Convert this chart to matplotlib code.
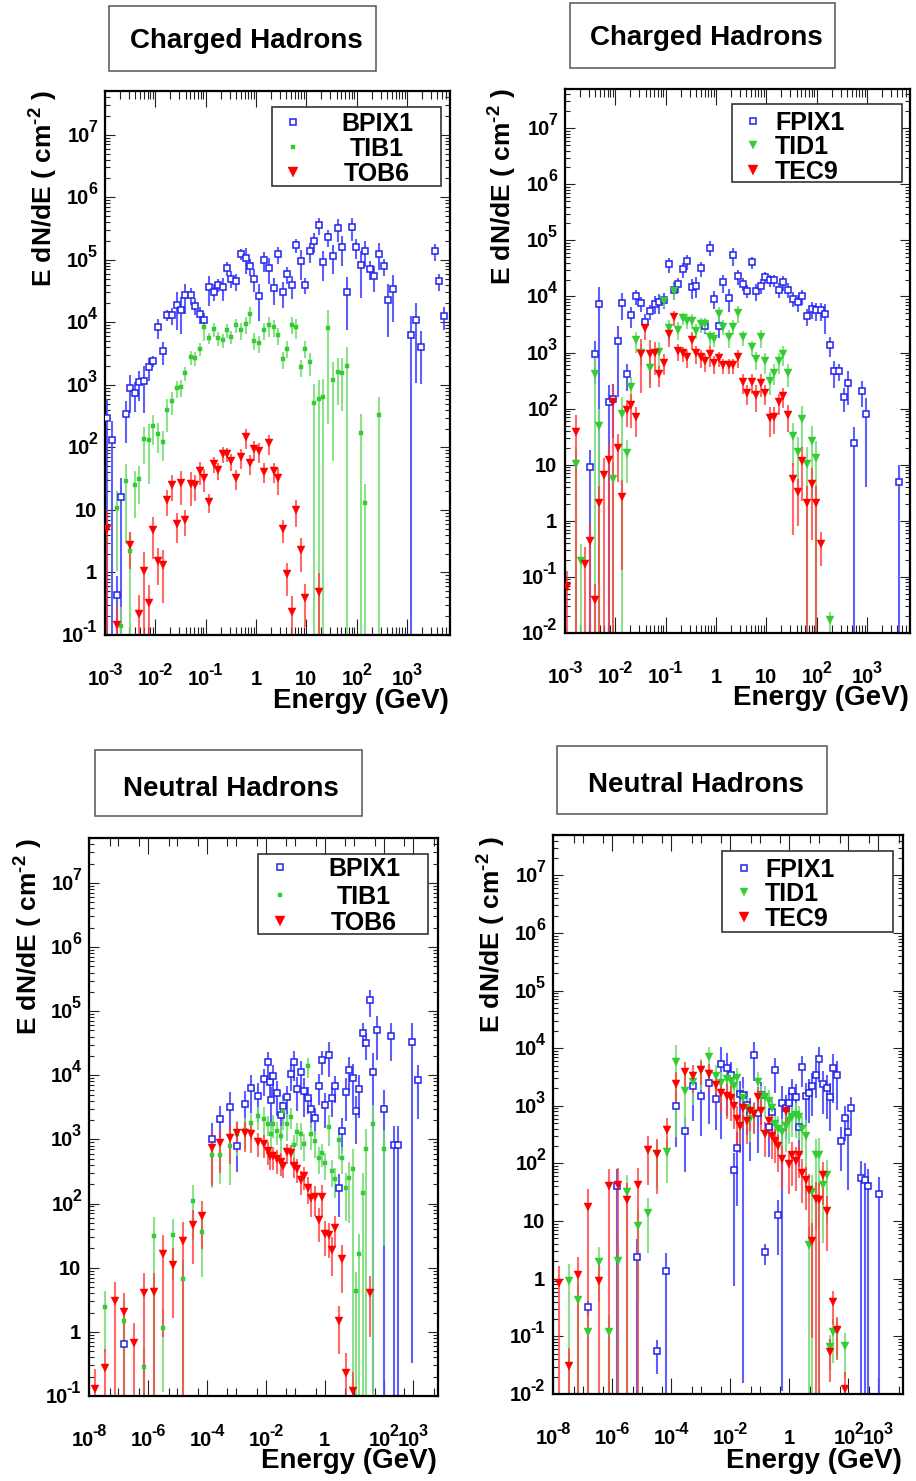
import matplotlib
matplotlib.use("Agg")
import numpy as np
import matplotlib.pyplot as plt
from matplotlib.patches import Rectangle
from matplotlib.lines import Line2D
from matplotlib.ticker import FixedLocator, NullFormatter, LogLocator
from matplotlib.transforms import offset_copy
from matplotlib.font_manager import FontProperties

plt.rcParams['font.family'] = ['Liberation Sans', 'DejaVu Sans']
plt.rcParams['font.weight'] = 'bold'
plt.rcParams['mathtext.fontset'] = 'custom'
plt.rcParams['mathtext.rm'] = 'Liberation Sans:bold'
plt.rcParams['mathtext.it'] = 'Liberation Sans:bold'
plt.rcParams['mathtext.bf'] = 'Liberation Sans:bold'
plt.rcParams['mathtext.default'] = 'rm'

# ---------------- DATA (log10 of energy in GeV, E dN/dE values, relative errors) -------------
# Panel 1: Charged hadrons, barrel
p1_bpix1_logE = [-2.97,-2.87,-2.77,-2.68,-2.59,-2.50,-2.40,-2.32,-2.22,-2.12,-2.04,-1.95,-1.85,-1.76,-1.67,
                 -1.57,-1.49,-1.40,-1.30,-1.21,-1.12,-1.03,-0.94,-0.84,-0.75,-0.66,-0.57,-0.49,-0.39,-0.30,
                 -0.20,-0.12,-0.03,0.07,0.16,0.25,0.35,0.44,0.53,0.61,0.71,0.80,0.89,0.98,1.08,1.16,1.26,
                 1.34,1.44,1.53,1.63,1.72,1.81,1.90,1.99,2.08,2.17,2.27,2.35,2.44,2.54,2.62,2.72,3.09,3.19,
                 3.28,3.55,3.64,3.73]
p1_bpix1_val = [300,130,0.44,16,340,900,740,1100,1170,1900,2450,8300,3500,13000,13000,19000,16000,27000,
                27000,18500,13500,11000,37000,31000,40000,37000,74000,50000,45000,123000,108000,80000,50000,
                26000,98000,74000,35000,123000,31000,59000,40000,170000,95000,40000,138000,200000,360000,
                93000,230000,117000,325000,158000,30000,330000,158000,82000,138000,72000,55000,126000,80000,
                23000,34000,6300,10700,4100,138000,46000,12600]
p1_bpix1_err = [1,1,1,1,0.65,0.6,0.5,0.5,0.7,0.4, 0.2,0.35,0.4,0.2,0.3, 0.6,0.6,0.5,0.3,0.3,
                0.3,0.3,0.5,0.3,0.25, 0.4,0.25,0.3,0.3,0.2, 0.45,0.3,0.4,0.6,0.35, 0.45,0.45,0.3,0.45,0.3,
                0.4,0.25,0.5,0.3,0.35, 0.35,0.3,0.5,0.3,0.5, 0.4,0.5,0.75,0.4,0.35, 0.7,0.45,0.35,0.45,0.45,
                0.3,0.75,0.7,1,0.9, 0.75,0.3,0.3,0.4]

p1_tib1_logE = [-2.77,-2.68,-2.59,-2.50,-2.40,-2.32,-2.22,-2.12,-2.04,-1.95,-1.85,-1.76,-1.67,-1.57,-1.49,
                -1.40,-1.30,-1.21,-1.12,-1.03,-0.94,-0.84,-0.75,-0.66,-0.57,-0.49,-0.39,-0.30,-0.20,-0.12,
                -0.03,0.07,0.16,0.25,0.35,0.44,0.53,0.61,0.71,0.80,0.89,0.98,1.08,1.16,1.26,1.34,1.44,1.53,
                1.63,1.72,1.81,2.08,2.17,2.44]
p1_tib1_val = [10.7,0.14,29,2.2,25, 31,134,130,220,162, 123,390,550,890,930, 1520,2800,2700,3800,8500,
               5600,7700,5600,5200,7500, 5900,8900,7400,9400,13400, 5100,4700,7400,9100,8300,
               6200,2600,3800,9200,8300, 1900,3800,2300,520,590, 630,8000,1200,1580,1520, 2000,170,13,325]
p1_tib1_err = [0.9,1,0.9,1,0.7, 0.6,0.6,0.8,0.5,0.5, 0.5,0.55,0.4,0.3,0.3, 0.25,0.25,0.25,0.25,0.4,
               0.2,0.25,0.25,0.25,0.25, 0.25,0.25,0.3,0.3,0.3, 0.3,0.3,0.3,0.35,0.3, 0.3,0.3,0.3,0.3,0.35,
               0.3,0.3,0.4,1,1, 1,0.97,0.95,0.7,0.75, 1,1,1,1]

p1_tob6_logE = [-2.97,-2.77,-2.50,-2.32,-2.22,-2.12,-2.04,-1.95,-1.85,-1.76,-1.67,-1.57,-1.49,-1.40,-1.30,
                -1.21,-1.12,-1.03,-0.94,-0.84,-0.75,-0.66,-0.57,-0.49,-0.39,-0.30,-0.20,-0.12,-0.03,0.07,
                0.16,0.25,0.35,0.44,0.53,0.61,0.71,0.80,0.89,0.98,1.26]
p1_tob6_val = [4.9,0.145,2.8,0.22,1.05, 0.32,4.7,1.55,1.3,14.5, 25,6.0,27,6.9,26, 25,42,32,13.5,55,
               43,79,77,61,32, 69,146,56,94,87, 41,117,42,32,4.9, 0.93,0.23,9.8,2.3,0.39, 0.49]
p1_tob6_err = [1,1,0.6,1,1, 1,0.65,0.6,0.75,0.45, 0.45,0.5,0.55,0.45,0.55, 0.45,0.4,0.4,0.35,0.3,
               0.3,0.3,0.25,0.3,0.35, 0.35,0.35,0.35,0.35,0.35, 0.35,0.35,0.35,0.45,0.4,
               0.55,0.8,0.45,0.55,0.65, 1]

# Panel 2: Charged hadrons, endcap
p2_fpix1_logE = [-2.50,-2.41,-2.32,-2.13,-2.04, -1.95,-1.86,-1.77,-1.68,-1.59, -1.49,-1.40,-1.31,-1.22,-1.13,
                 -1.03,-0.94,-0.84,-0.75,-0.66, -0.58,-0.48,-0.39,-0.30,-0.21, -0.12,-0.03,0.06,0.15,0.25,
                 0.34,0.43,0.53,0.61,0.71, 0.80,0.89,0.98,1.08,1.16, 1.26,1.34,1.44,1.53,1.63,
                 1.72,1.81,1.90,1.99,2.08, 2.17,2.27,2.35,2.44,2.54, 2.62,2.74,2.90,2.99,3.64]
p2_fpix1_val = [9.3,930,7400,130,150, 1590,7600,410,4600,10000, 7600,3550,5400,7400,8000,
                8700,38000,13200,16500,31000, 43000,14800,15600,32000,3000, 74000,9100,3000,17800,9500,
                54000,23000,17000,12600,41000, 12600,15500,22000,19500,19500, 13200,17800,13200,9100,8000,
                10000,4500,6000,5700,5700, 4800,1380,470,470,160, 290,24,210,81,5.0]
p2_fpix1_err = [1,0.7,1,1,0.8, 0.9,0.5,0.5,0.4,0.3, 0.3,0.35,0.3,0.35,0.4, 0.3,0.3,0.35,0.3,0.3,
                0.3,0.4,0.4,0.3,0.3, 0.3,0.35,0.4,0.35,0.45, 0.35,0.3,0.25,0.25,0.25, 0.35,0.3,0.25,0.25,0.25,
                0.3,0.3,0.3,0.3,0.35, 0.3,0.35,0.35,0.35,0.35, 0.55,0.4,0.5,0.35,0.45, 0.6,1,0.5,0.95,1]

p2_tid1_logE = [-2.78,-2.69,-2.41,-2.32,-2.04, -1.86,-1.77,-1.68,-1.59,-1.49, -1.31,-1.13,-1.03,-0.94,-0.84,
                -0.75,-0.66,-0.58,-0.48,-0.39, -0.30,-0.21,-0.12,-0.03,0.06, 0.15,0.25,0.34,0.43,0.53,
                0.71,0.80,0.89,0.98,1.08, 1.16,1.26,1.34,1.44,1.53, 1.63,1.72,1.81,1.90,1.99, 2.27]
p2_tid1_val = [10.5,0.19,410,49,5.6, 81,16,245,1650,1000, 520,1020,8300,2700,12600,
               2550,4100,3700,3700,2450, 3200,3200,1900,1770,4900, 2900,1870,2900,5100,1900,
               1260,760,1870,700,315, 440,700,950,440,32, 17,65,10.5,26,13, 0.017]
p2_tid1_err = [1,1,1,1,1, 1,0.7,0.5,0.4,0.4, 0.5,0.5,0.25,0.4,0.3, 0.35,0.25,0.3,0.3,0.3,
               0.3,0.3,0.3,0.3,0.35, 0.3,0.35,0.3,0.35,0.3, 0.3,0.35,0.35,0.4,0.45,
               0.4,0.4,0.4,0.45,0.7, 0.8,0.7,1,0.9,1, 0.4]

p2_tec9_logE = [-2.97,-2.78,-2.60,-2.50,-2.41, -2.32,-2.22,-2.13,-2.04,-1.95, -1.86,-1.77,-1.68,-1.59,-1.49,
                -1.40,-1.31,-1.22,-1.13,-1.03, -0.94,-0.84,-0.75,-0.66,-0.58, -0.48,-0.39,-0.30,-0.21,-0.12,
                -0.03,0.06,0.15,0.25,0.34, 0.43,0.53,0.61,0.71,0.80, 0.89,0.98,1.08,1.16,1.26,
                1.34,1.44,1.53,1.63,1.72, 1.81,1.90,1.99,2.08]
p2_tec9_val = [0.065,39,0.17,0.44,0.038, 2.1,6.6,12,130,20, 2.7,94,115,70,950, 2750,950,980,410,660,
               2100,4300,1070,980,830, 1700,980,830,700,940, 650,790,590,590,590, 830,300,190,300,175,
               290,190,68,70,130, 170,76,5.6,3.2,11.5, 2.1,4.6,2.1,0.39]
p2_tec9_err = [1,1,1,1,1, 1,1,1,1,0.75, 0.95,0.5,0.6,0.55,0.8, 0.4,0.75,0.6,0.4,0.4,
               0.4,0.3,0.35,0.3,0.35, 0.35,0.35,0.35,0.35,0.4, 0.35,0.3,0.3,0.3,0.3,
               0.35,0.4,0.4,0.4,0.5, 0.45,0.4,0.55,0.5,0.4, 0.4,0.5,0.9,0.75,0.8, 1,0.9,1,0.6]

# Panel 3: Neutral hadrons, barrel
p3_bpix1_logE = [-6.81,-3.84,-3.55,-3.23,-2.96, -2.71,-2.49,-2.28,-2.07,-1.92, -1.84,-1.82,-1.74,-1.62,-1.50,
                 -1.40,-1.29,-1.16,-1.04,-0.93, -0.80,-0.71,-0.58,-0.46,-0.34, -0.21,-0.10,0.02,0.14,0.25,
                 0.36,0.49,0.60,0.72,0.84, 0.95,1.06,1.18,1.30,1.40, 1.54,1.65,1.77,2.01,2.25,
                 2.36,2.50,2.95,3.18]
p3_bpix1_val = [0.64,1000,2100,3250,780, 3600,6400,4750,8700,16000, 7800,4100,9600,5200,2400,
                3300,4550,10500,16000,6100, 11400,5600,4500,3000,2150, 6900,17000,3400,21000,4400,
                6800,178,1370,5500,12300, 9100,2800,6100,46000,32000, 148000,11200,50000,2950,41000,
                810,810,33000,8300]
p3_bpix1_err = [0.2,0.8,0.6,0.7,0.6, 0.6,0.6,0.6,0.45,0.45, 0.45,0.6,0.5,0.55,0.6, 0.5,0.5,0.45,0.5,0.55,
                0.45,0.6,0.45,0.5,0.45, 0.5,0.4,0.55,0.55,0.5, 0.45,0.65,0.55,0.65,0.55,
                0.65,0.7,0.65,0.4,0.45, 0.45,1,0.65,1,0.6, 1,1,1,0.75]

p3_tib1_logE = [-7.47,-6.81,-6.15,-5.81,-5.49, -5.14,-4.81,-4.47,-4.16,-3.84, -3.55,-3.23,-2.96,-2.71,-2.49,
                -2.28,-2.07,-1.92,-1.82,-1.74, -1.62,-1.50,-1.40,-1.29,-1.16, -1.04,-0.93,-0.80,-0.71,-0.58,
                -0.46,-0.34,-0.21,-0.10,0.02, 0.14,0.25,0.36,0.49,0.60, 0.72,0.84,0.95,1.06,1.18,
                1.30,1.40,1.65,2.01]
p3_tib1_val = [2.4,1.5,0.28,31,1.15, 32,6.6,110,36,580, 580,780,1230,1420,1780, 2300,2100,1740,1230,1740,
               1350,1130,2800,1740,2250, 830,1310,1230,850,14000, 1230,940,520,610,425,
               1580,325,240,980,520, 178,250,350,4.3,16.6, 148,720,1740,720]
p3_tib1_err = [0.8,1,1,1,0.9, 0.8,1,0.75,0.8,0.7, 0.65,0.75,0.55,0.5,0.45, 0.4,0.5,0.35,0.5,0.4,
               0.4,0.45,0.5,0.45,0.35, 0.4,0.4,0.45,0.45,0.35, 0.45,0.45,0.45,0.4,0.45,
               0.5,0.45,0.5,0.5,0.45, 0.7,0.8,1,1,1, 1,1,1,0.97]

p3_tob6_logE = [-7.80,-7.47,-7.13,-6.81,-6.47, -6.15,-5.81,-5.49,-5.14,-4.81, -4.47,-4.16,-3.84,-3.55,-3.23,
                -2.96,-2.71,-2.49,-2.28,-2.07, -1.92,-1.84,-1.74,-1.62,-1.50, -1.40,-1.29,-1.16,-1.04,-0.93,
                -0.80,-0.71,-0.58,-0.46,-0.34, -0.21,-0.10,0.02,0.14,0.25, 0.36,0.49,0.60,0.72,0.95, 1.54]
p3_tob6_val = [0.13,0.27,3.0,2.05,0.68, 4.1,4.2,16.6,11,26, 46,65,740,870,1050, 1260,1260,1230,900,850,
               660,550,550,490,445, 380,630,610,380,350, 230,270,178,124,126, 55,128,34,32,18.6,
               42,1.48,13.5,0.23,0.12, 4.1]
p3_tob6_err = [1,1,1,1,1, 1,1,0.95,0.85,1, 0.75,0.7,0.75,0.65,0.6, 0.5,0.5,0.5,0.4,0.4,
               0.4,0.4,0.4,0.4,0.4, 0.35,0.35,0.35,0.35,0.4, 0.4,0.4,0.45,0.5,0.5,
               0.55,0.5,0.55,0.55,0.6, 0.5,0.7,0.7,1,1, 0.8]

# Panel 4: Neutral hadrons, endcap
p4_fpix1_logE = [-6.80,-5.82,-5.15,-4.48,-4.16, -3.85,-3.53,-3.26,-2.98,-2.72, -2.50,-2.30,-2.11,-1.97,-1.88,
                 -1.77,-1.66,-1.56,-1.45,-1.32, -1.19,-1.06,-0.96,-0.84,-0.70, -0.60,-0.48,-0.37,-0.26,-0.12,
                 -0.01,0.10,0.22,0.33,0.44, 0.55,0.66,0.78,0.89,1.00, 1.15,1.26,1.39,1.48,1.60,
                 1.73,1.87,1.98,2.09,2.43, 2.55,2.66,3.02]
p4_fpix1_val = [0.32,40,2.4,0.055,1.38, 980,360,2200,1480,2450, 1290,5300,4500,3450,76,
                185,1600,1560,1050,750, 7700,750,1540,2.9,430, 790,4150,13,1120,900,
                1120,1820,1440,430,4700, 1480,1700,2200,3450,6600, 2400,2000,1440,4500,3400,
                250,620,350,930,56, 51,40,29]
p4_fpix1_err = [0.3,1,1,0.6,1, 0.8,0.8,0.75,0.8,0.8, 0.7,0.95,0.85,0.7,0.99, 0.9,0.7,1,0.7,0.85,
                0.65,0.8,0.7,0.4,0.7, 0.6,0.6,0.8,1,0.7, 0.55,0.6,0.65,0.8,0.55,
                0.7,0.7,0.7,0.6,0.6, 0.7,0.7,0.75,0.75,0.75, 0.7,0.6,0.9,0.55,1, 1,1,1]

p4_tid1_logE = [-7.47,-7.14,-6.80,-6.45,-6.11, -5.79,-5.49,-5.14,-4.80,-4.48, -4.14,-3.85,-3.53,-3.26,-2.98,
                -2.72,-2.50,-2.30,-2.11,-1.97, -1.88,-1.77,-1.66,-1.56,-1.45, -1.32,-1.19,-1.06,-0.96,-0.84,
                -0.70,-0.60,-0.48,-0.37,-0.26, -0.12,-0.01,0.10,0.22,0.33, 0.44,0.55,0.66,0.78,0.89,
                1.00,1.15,1.26,1.39,1.48, 1.60,1.87]
p4_tid1_val = [0.91,0.42,0.117,1.95,0.117, 2.0,32,8.3,14,148, 155,5800,1800,2550,4150,
               6900,3350,2460,2930,2700, 2200,3000,450,1380,900, 590,760,2570,1480,1440,
               1200,900,480,400,350, 450,550,630,690,630, 400,300,3.9,32,138,
               138,42,63,0.065,0.117, 0.123,0.067]
p4_tid1_err = [1,1,1,0.8,1, 1,1,0.95,0.8,0.75, 0.7,0.95,0.8,0.6,0.55, 0.5,0.5,0.55,0.45,0.5,
               0.55,0.5,0.6,0.5,0.55, 0.6,0.55,0.5,0.5,0.55, 0.55,0.55,0.6,0.65,0.7,
               0.65,0.6,0.55,0.6,0.6, 0.65,0.9,1,1,0.95, 1,0.9,0.85,0.6,0.7, 0.65,0.7]

p4_tec9_logE = [-7.79,-7.46,-7.14,-6.80,-6.45, -6.11,-5.79,-5.49,-5.14,-4.80, -4.48,-4.14,-3.85,-3.53,-3.26,
                -2.98,-2.72,-2.50,-2.30,-2.11, -1.97,-1.88,-1.77,-1.66,-1.56, -1.45,-1.32,-1.19,-1.06,-0.96,
                -0.84,-0.70,-0.60,-0.48,-0.37, -0.26,-0.12,-0.01,0.10,0.22, 0.33,0.44,0.55,0.66,0.78,
                0.89,1.00,1.15,1.26,1.39, 1.48,1.60,1.87]
p4_tec9_val = [0.83,0.031,1.18,17.8,0.93, 40,42,23,42,170, 145,380,2400,3900,3350,
               4150,3600,2280,1660,1480, 1370,980,590,440,900, 550,820,720,1440,820,
               330,540,300,250,200, 120,820,98,138,112, 141,69,52,35,4.6,
               24,23,63,15,0.053, 0.39,0.13,0.012]
p4_tec9_err = [1,1,1,1,1, 1,1,1,1,0.75, 0.8,0.65,0.6,0.5,0.5, 0.45,0.5,0.55,0.55,0.6,
               0.6,0.6,0.65,0.65,0.55, 0.6,0.55,0.55,0.45,0.55, 0.6,0.5,0.6,0.6,0.65,
               0.7,0.55,0.7,0.7,0.7, 0.6,0.7,0.7,0.85,0.98, 1,1,0.7,0.8,0.7, 0.6,0.7,1]

titles = ["Charged Hadrons", "Charged Hadrons", "Neutral Hadrons", "Neutral Hadrons"]
legend_names = [["BPIX1", "TIB1", "TOB6"], ["FPIX1", "TID1", "TEC9"],
                ["BPIX1", "TIB1", "TOB6"], ["FPIX1", "TID1", "TEC9"]]
ylabel_text = "E dN/dE ( cm$^{\u2010 2}$ )"
xlabel_text = "Energy (GeV)"
# tick labels: (value, base text, exponent text or None)
xtick_top = [(1e-3, "10", "-3"), (1e-2, "10", "-2"), (1e-1, "10", "-1"), (1, "1", None), (10, "10", None),
             (1e2, "10", "2"), (1e3, "10", "3")]
xtick_bot = [(1e-8, "10", "-8"), (1e-6, "10", "-6"), (1e-4, "10", "-4"), (1e-2, "10", "-2"), (1, "1", None),
             (1e2, "10", "2"), (1e3, "10", "3")]
ytick_a = [(1e-1, "10", "-1"), (1, "1", None), (10, "10", None), (1e2, "10", "2"), (1e3, "10", "3"),
           (1e4, "10", "4"), (1e5, "10", "5"), (1e6, "10", "6"), (1e7, "10", "7")]
ytick_b = [(1e-2, "10", "-2")] + ytick_a

# ---------------- STYLE ----------------
W, H = 916, 1481
BLUE, BLUE_E = '#2222ee', '#4d4dff'
GREEN, GREEN_E = '#33cc33', '#77dd77'
RED, RED_E = '#ff0000', '#ff3a3a'

fig = plt.figure(figsize=(W / 100, H / 100), dpi=100)
fig.patch.set_facecolor('white')
renderer = fig.canvas.get_renderer()

FS_BASE, FS_SUP = 14.5, 11.5
fp_base = FontProperties(family='Liberation Sans', weight='bold', size=FS_BASE)
fp_sup = FontProperties(family='Liberation Sans', weight='bold', size=FS_SUP)


def text_w(s, fp):
    return renderer.get_text_width_height_descent(s, fp, ismath=False)[0]


def frac_rect(l, t, r, b):
    return [l / W, 1 - b / H, (r - l) / W, (b - t) / H]


panels = [
    dict(rect=(105, 91, 450, 635), xlim=(1e-3, 7.2e3), ylim=(1e-1, 5e7), xt=xtick_top, yt=ytick_a, kind='top',
         series=[(p1_bpix1_logE, p1_bpix1_val, p1_bpix1_err, 'blue'),
                 (p1_tib1_logE, p1_tib1_val, p1_tib1_err, 'gsq'),
                 (p1_tob6_logE, p1_tob6_val, p1_tob6_err, 'red')],
         title_box=(109, 6, 376, 71), title_xy=(246, 48),
         leg_box=(272, 107, 441, 186), leg_mx=293, leg_rows=(122, 147, 172), leg_tx=377, leg_ha='center',
         ylab=(44, 90), xlab=(449, 708)),
    dict(rect=(565, 89, 910, 633), xlim=(1e-3, 7.2e3), ylim=(1e-2, 5e7), xt=xtick_top, yt=ytick_b, kind='top',
         series=[(p2_fpix1_logE, p2_fpix1_val, p2_fpix1_err, 'blue'),
                 (p2_tid1_logE, p2_tid1_val, p2_tid1_err, 'gtri'),
                 (p2_tec9_logE, p2_tec9_val, p2_tec9_err, 'red')],
         title_box=(570, 3, 835, 68), title_xy=(706, 45),
         leg_box=(732, 104, 902, 182), leg_mx=753, leg_rows=(121, 145, 170), leg_tx=775, leg_ha='left',
         ylab=(503, 88), xlab=(909, 705)),
    dict(rect=(89, 838, 438, 1396), xlim=(1e-8, 7e3), ylim=(1e-1, 5e7), xt=xtick_bot, yt=ytick_a, kind='bot',
         series=[(p3_bpix1_logE, p3_bpix1_val, p3_bpix1_err, 'blue'),
                 (p3_tib1_logE, p3_tib1_val, p3_tib1_err, 'gsq'),
                 (p3_tob6_logE, p3_tob6_val, p3_tob6_err, 'red')],
         title_box=(95, 750, 362, 816), title_xy=(231, 796),
         leg_box=(258, 854, 428, 934), leg_mx=280, leg_rows=(867, 895, 921), leg_tx=364, leg_ha='center',
         ylab=(29, 838), xlab=(437, 1468)),
    dict(rect=(553, 835, 903, 1394), xlim=(1e-8, 7e3), ylim=(1e-2, 5e7), xt=xtick_bot, yt=ytick_b, kind='bot',
         series=[(p4_fpix1_logE, p4_fpix1_val, p4_fpix1_err, 'blue'),
                 (p4_tid1_logE, p4_tid1_val, p4_tid1_err, 'gtri'),
                 (p4_tec9_logE, p4_tec9_val, p4_tec9_err, 'red')],
         title_box=(557, 746, 827, 814), title_xy=(696, 792),
         leg_box=(722, 851, 893, 932), leg_mx=744, leg_rows=(868, 892, 917), leg_tx=765, leg_ha='left',
         ylab=(492, 836), xlab=(902, 1468)),
]

styles = {
    'blue': dict(ecolor=BLUE_E, ealpha=0.9, marker='s', ms=4.4, mfc='white', mec=BLUE, mew=1.1),
    'gsq': dict(ecolor=GREEN_E, ealpha=0.85, marker='s', ms=3.3, mfc=GREEN, mec=GREEN, mew=0.3),
    'gtri': dict(ecolor=GREEN_E, ealpha=0.85, marker='v', ms=5.8, mfc=GREEN, mec=GREEN, mew=0.3),
    'red': dict(ecolor=RED_E, ealpha=0.75, marker='v', ms=6.3, mfc=RED, mec=RED, mew=0.3),
}

SUP_GAP = -1.5
SUP_RAISE = 10.0
for idx, p in enumerate(panels):
    ax = fig.add_axes(frac_rect(*p['rect']))
    ax.set_xscale('log')
    ax.set_yscale('log')
    ax.set_xlim(*p['xlim'])
    ax.set_ylim(*p['ylim'])
    for sp in ax.spines.values():
        sp.set_linewidth(1.6)
        sp.set_color('black')

    for logE, val, err, sty in p['series']:
        st = styles[sty]
        x = 10 ** np.asarray(logE, dtype=float)
        y = np.asarray(val, dtype=float)
        f = np.asarray(err, dtype=float)
        lo = y * np.minimum(f, 0.99999)
        hi = y * f
        ax.errorbar(x, y, yerr=[lo, hi], fmt='none', ecolor=st['ecolor'], elinewidth=1.5,
                    capsize=0, alpha=st['ealpha'], zorder=2)
        ax.plot(x, y, linestyle='none', marker=st['marker'], markersize=st['ms'],
                markerfacecolor=st['mfc'], markeredgecolor=st['mec'], markeredgewidth=st['mew'], zorder=3)

    # ticks
    xmaj = [t[0] for t in p['xt']]
    ax.xaxis.set_major_locator(FixedLocator(xmaj))
    if p['kind'] == 'top':
        ax.xaxis.set_minor_locator(LogLocator(base=10, subs=np.arange(2, 10), numticks=40))
    else:
        others = [10.0 ** k for k in range(-8, 4) if 10.0 ** k not in xmaj]
        fives = [5 * 10.0 ** k for k in range(-9, 4)]
        ax.xaxis.set_minor_locator(FixedLocator(others + fives))
    ax.yaxis.set_major_locator(FixedLocator([t[0] for t in p['yt']]))
    ax.yaxis.set_minor_locator(LogLocator(base=10, subs=np.arange(2, 10), numticks=40))
    for a in (ax.xaxis, ax.yaxis):
        a.set_major_formatter(NullFormatter())
        a.set_minor_formatter(NullFormatter())
    ax.tick_params(which='both', direction='in', top=True, right=True, color='#222222', width=0.8)
    ax.tick_params(axis='x', which='major', length=11.5)
    ax.tick_params(axis='x', which='minor', length=5.5)
    ax.tick_params(axis='y', which='major', length=7.5)
    ax.tick_params(axis='y', which='minor', length=3.8)

    # tick labels, ROOT style: base + raised exponent, common baseline
    xtr = ax.get_xaxis_transform()
    for v, base, ex in p['xt']:
        if ex is None:
            ax.text(v, 0, base, transform=offset_copy(xtr, fig=fig, x=0, y=-50, units='dots'),
                    ha='center', va='baseline', fontproperties=fp_base, clip_on=False)
        else:
            wb, we = text_w(base, fp_base), text_w(ex, fp_sup)
            x0 = -(wb + SUP_GAP + we) / 2
            ax.text(v, 0, base, transform=offset_copy(xtr, fig=fig, x=x0, y=-50, units='dots'),
                    ha='left', va='baseline', fontproperties=fp_base, clip_on=False)
            ax.text(v, 0, ex, transform=offset_copy(xtr, fig=fig, x=x0 + wb + SUP_GAP, y=-50 + SUP_RAISE,
                                                    units='dots'),
                    ha='left', va='baseline', fontproperties=fp_sup, clip_on=False)
    ytr = ax.get_yaxis_transform()
    for v, base, ex in p['yt']:
        if ex is None:
            ax.text(0, v, base, transform=offset_copy(ytr, fig=fig, x=-8, y=-7, units='dots'),
                    ha='right', va='baseline', fontproperties=fp_base, clip_on=False)
        else:
            we = text_w(ex, fp_sup)
            ax.text(0, v, ex, transform=offset_copy(ytr, fig=fig, x=-8, y=-7 + SUP_RAISE, units='dots'),
                    ha='right', va='baseline', fontproperties=fp_sup, clip_on=False)
            ax.text(0, v, base, transform=offset_copy(ytr, fig=fig, x=-8 - we - SUP_GAP, y=-7, units='dots'),
                    ha='right', va='baseline', fontproperties=fp_base, clip_on=False)

    # title box
    l, t, r, b = p['title_box']
    fig.add_artist(Rectangle((l / W, 1 - b / H), (r - l) / W, (b - t) / H, transform=fig.transFigure,
                             facecolor='white', edgecolor='#555555', linewidth=1.1))
    fig.text(p['title_xy'][0] / W, 1 - p['title_xy'][1] / H, titles[idx], ha='center',
             va='baseline', fontsize=20, fontweight='bold')

    # legend box
    l, t, r, b = p['leg_box']
    fig.add_artist(Rectangle((l / W, 1 - b / H), (r - l) / W, (b - t) / H, transform=fig.transFigure,
                             facecolor='white', edgecolor='#333333', linewidth=1.2, zorder=5))
    for (logE, val, err, sty), name, ry in zip(p['series'], legend_names[idx], p['leg_rows']):
        st = styles[sty]
        fig.add_artist(Line2D([p['leg_mx'] / W], [1 - ry / H], transform=fig.transFigure, linestyle='none',
                              marker=st['marker'], markersize=st['ms'] + 0.3, markerfacecolor=st['mfc'],
                              markeredgecolor=st['mec'], markeredgewidth=st['mew'], zorder=6))
        fig.text(p['leg_tx'] / W, 1 - (ry + 9) / H, name, ha=p['leg_ha'], va='baseline',
                 fontsize=18, fontweight='bold', zorder=6)

    # axis titles
    fig.text(p['ylab'][0] / W, 1 - p['ylab'][1] / H, ylabel_text, rotation=90, ha='center', va='top',
             fontsize=19, fontweight='bold')
    fig.text(p['xlab'][0] / W, 1 - p['xlab'][1] / H, xlabel_text, ha='right', va='baseline',
             fontsize=20, fontweight='bold')

fig.savefig('out.png', dpi=100, facecolor='white')
